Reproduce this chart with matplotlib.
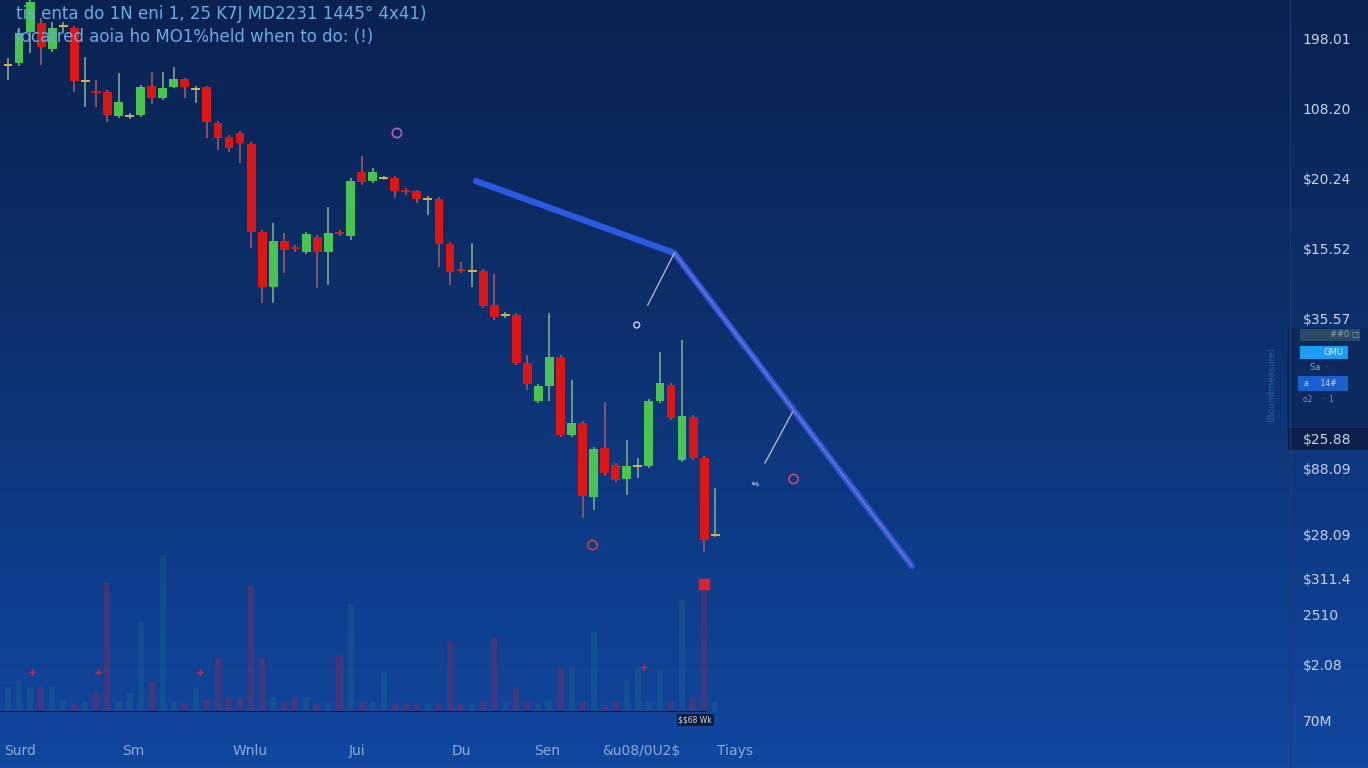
import numpy as np
import matplotlib
matplotlib.use("Agg")
import matplotlib.pyplot as plt
from matplotlib.colors import LinearSegmentedColormap
from matplotlib.patches import Rectangle

plt.rcParams["text.parse_math"] = False

# candle data (price units), one entry per session
opens = [175.5, 176.25, 184, 186.25, 179.75, 185.25, 185, 171.5, 169.25, 169,
         163, 162.75, 163.25, 170.5, 167.5, 170.25, 172.25, 169.5, 170.25, 161.25,
         157.75, 158.75, 156, 134, 120.25, 131.75, 130.25, 129, 132.75, 129,
         134, 133, 149, 146.75, 147.25, 147.5, 144.5, 144.25, 142, 142.25,
         131, 124.75, 124, 124.25, 115.75, 113, 113.25, 101.25, 91.75, 95.5,
         102.75, 83.25, 86.25, 67.75, 80, 75.75, 72.25, 75.25, 75.5, 91.75,
         95.75, 77, 87.75, 77.5, 58]
closes = [176, 183.75, 191.5, 180.25, 185, 185.75, 171.75, 172, 168.75, 163.25,
          166.5, 163.25, 170.25, 167.5, 170, 172.25, 170.25, 170, 161.5, 157.5,
          155, 156.25, 134, 120.25, 131.75, 129.5, 129.75, 133.5, 129, 133.75,
          133.5, 146.75, 146.5, 149, 147.75, 144.25, 144, 142.25, 142.5, 131,
          124, 124.25, 124.5, 115.5, 112.75, 113.5, 101.25, 96, 95.5, 102.75,
          83.25, 86.25, 68, 79.75, 73.75, 72, 75.5, 75.75, 91.75, 96.25,
          87.5, 88, 77.5, 57, 58.25]
highs = [177.5, 185, 192, 187.5, 186.5, 186.5, 185.5, 177.75, 172, 169.5,
         173.75, 163.75, 170.75, 174, 174, 175.25, 172.5, 170.5, 170.5, 161.75,
         158.25, 159.25, 156.5, 134.5, 136.25, 133.75, 130.75, 134, 133.25, 140.25,
         134.5, 147.5, 153, 150, 148, 148, 145, 144.5, 143, 142.75,
         131.5, 126.5, 131.25, 124.75, 123.5, 114, 113.75, 103.25, 96, 113.75,
         103.25, 97, 86.75, 80.25, 91.5, 76.25, 82, 77.5, 92.25, 104,
         96.25, 107, 88.25, 78, 70]
lows = [172, 175.5, 178.75, 175.75, 179, 184, 169, 165.25, 165.25, 161.5,
        162.5, 162.25, 162.75, 166, 167, 170, 167.5, 166.25, 157.5, 154.5,
        154, 151.25, 130, 116.25, 116.25, 123.75, 129, 128.5, 120, 120.75,
        133, 132, 145.75, 146.25, 147, 142.5, 143.25, 141.25, 138.25, 125.25,
        120.75, 123.75, 120.25, 115, 112, 112.5, 100.75, 94.5, 91.25, 91.75,
        82.75, 82.75, 62.5, 64.5, 73, 71.5, 68.25, 72.5, 75, 91.25,
        87, 76.5, 77, 54, 57.75]
volumes = [25, 32, 25, 25, 25, 12, 8, 10, 20, 129,
           10, 19, 90, 30, 157, 10, 8, 24, 12, 55,
           15, 15, 127, 55, 15, 10, 15, 15, 8, 10,
           57, 108, 10, 10, 40, 8, 8, 8, 8, 8,
           70, 8, 8, 10, 74, 10, 25, 10, 8, 12,
           45, 45, 10, 80, 7, 10, 32, 45, 10, 42,
           10, 112, 15, 132, 10]

# drawn trend line (session index, price)
trend_x = [42.35, 60.3, 81.8]
trend_y = [146.75, 128.75, 50.5]

# axis labels
price_ticks = [182.5, 164.75, 147.25, 129.75, 112.5, 82.25, 75, 58.5, 47.25, 38.25, 26, 12]
price_labels = ["198.01", "108.20", "$20.24", "$15.52", "$35.57", "$25.88", "$88.09",
                "$28.09", "$311.4", "2510", "$2.08", "70M"]
date_ticks = [1.1, 11.3, 21.9, 31.6, 41.0, 48.8, 57.3, 65.8]
date_labels = ["Surd", "Sm", "Wnlu", "Jui", "Du", "Sen", "&u08/0U2$", "Tiays"]

title_1 = "tis enta do 1N eni 1, 25 K7J MD2231 1445\u00b0 4x41)"
title_2 = "Iocatred aoia ho MO1%held when to do: (!)"

GREEN = "#47c451"
RED = "#dc1515"
DOJI = "#c9b54a"

W, H = 1368, 768
fig = plt.figure(figsize=(13.68, 7.68), dpi=100)

# background gradient + side widget (pixel coords)
bg = fig.add_axes([0, 0, 1, 1], zorder=-5)
cmap = LinearSegmentedColormap.from_list("bg", ["#0a2250", "#0c2d66", "#0e3a84", "#1247a0"])
grad = np.linspace(0, 1, 256).reshape(-1, 1)
bg.imshow(grad, aspect="auto", cmap=cmap, extent=[0, W, H, 0])
bg.set_xlim(0, W)
bg.set_ylim(H, 0)
bg.axis("off")

bg.add_patch(Rectangle((1287, 328), 81, 104, color="#0d2a5e", lw=0))
bg.add_patch(Rectangle((1300, 329), 60, 12, color="#2b4a66", lw=0))
bg.text(1345, 335, "##0 \u25a1", color="#8aa0b4", fontsize=6, ha="center", va="center")
bg.add_patch(Rectangle((1300, 346), 48, 13, color="#1c9cf2", lw=0))
bg.text(1333, 352.5, "GMU", color="#d8ecff", fontsize=6, ha="center", va="center")
bg.text(1310, 368, "Sa  \u00b7", color="#8fa4c8", fontsize=6, ha="left", va="center")
bg.add_patch(Rectangle((1298, 376), 50, 15, color="#1b5fcc", lw=0))
bg.text(1304, 383.5, "a     14#", color="#c8d8f0", fontsize=5.5, ha="left", va="center")
bg.text(1303, 400, "o2    \u00b7\u00b7 1", color="#7b92b8", fontsize=5.5, ha="left", va="center")
bg.add_patch(Rectangle((1288, 428), 80, 22, color="#0b1f4a", lw=0))
bg.text(1272, 384, "(Boundmeasure)", color="#2a5fa0", fontsize=6.5, rotation=90,
        ha="center", va="center")

# price axes
left_w = 1290 / W
ax = fig.add_axes([0, 0, left_w, 1])
ax.patch.set_alpha(0)
x0 = -8 / 11.05
ax.set_xlim(x0, x0 + 1290 / 11.05)
ax.set_ylim(0, 192)

idx = np.arange(len(opens))
o = np.array(opens); c = np.array(closes)
up = c >= o
body_lo = np.minimum(o, c)
body_h = np.maximum(np.abs(c - o), 0.5)
doji = np.abs(c - o) <= 0.6

body_cols = [(DOJI if d else GREEN) if u else RED for u, d in zip(up, doji)]
wick_cols = ["#7fa88c" if u else "#9a5a6c" for u in up]
ax.vlines(idx, lows, highs, colors=wick_cols, lw=1.2, zorder=2)
ax.bar(idx, body_h, bottom=body_lo, width=0.8, color=body_cols, lw=0, zorder=3)

# trend line
ax.plot(trend_x, trend_y, color="#2a5ae0", lw=4.5, solid_capstyle="round", zorder=4)
ax.plot(trend_x[1:], trend_y[1:], color="#c07a9a", lw=0.8, alpha=0.8, zorder=5)

# small annotations on the chart
ax.plot([60.3, 57.9], [128.75, 115.75], color="#b8c0d8", lw=0.9, zorder=4)
ax.plot([71.0, 68.5], [89, 76.25], color="#b8c0d8", lw=0.9, zorder=4)
ax.scatter([35.2, 71.1], [158.75, 72.25], s=45, facecolor="none",
           edgecolor=["#b060c0", "#c04a70"], lw=1.2, zorder=5)
ax.scatter([52.9], [55.75], s=45, facecolor="none", edgecolor="#c83a50", lw=1.2, zorder=5)
ax.scatter([56.9], [110.75], s=18, facecolor="none", edgecolor="#d0d8e8", lw=1, zorder=5)
ax.text(67.6, 71.25, "$", color="#c8d0e0", fontsize=6, ha="center", va="center", rotation=70)

ax.yaxis.tick_right()
ax.set_yticks(price_ticks)
ax.set_yticklabels(price_labels)
ax.tick_params(axis="y", length=0, pad=9, labelsize=10, labelcolor="#c8d2e6")
ax.set_xticks(date_ticks)
ax.set_xticklabels(date_labels)
ax.tick_params(axis="x", length=0, pad=-17, labelsize=10, labelcolor="#8aa8d8")
for s in ["top", "left", "bottom"]:
    ax.spines[s].set_visible(False)
ax.spines["right"].set_color("#1c3d74")
ax.spines["right"].set_linewidth(0.8)

# volume axes
axv = fig.add_axes([0, 56 / H, left_w, 172 / H], sharex=ax)
axv.patch.set_alpha(0)
axv.set_ylim(0, 172)
vol_cols = [(0.16, 0.50, 0.48, 0.22) if u else (0.62, 0.16, 0.30, 0.35) for u in up]
axv.bar(idx, volumes, width=0.55, color=vol_cols, lw=0)
axv.hlines(0, x0, 63.2, color="#0a1a3a", lw=2.2)
axv.scatter([63], [128], marker="s", s=60, color="#e0202a", zorder=3)
axv.scatter([2.2, 8.1, 17.4, 57.6], [40, 40, 40, 45], marker="+", s=25, color="#c03050", lw=1)
axv.text(62.2, -8, "$$68 Wk", color="#d0d8e8", fontsize=5.5, ha="center", va="center",
         bbox=dict(boxstyle="square,pad=0.25", fc="#0b1a3a", ec="none"), clip_on=False)
axv.axis("off")

fig.text(16 / W, 1 - 14 / H, title_1, color="#6eaae0", fontsize=12, va="center", ha="left")
fig.text(16 / W, 1 - 37 / H, title_2, color="#6eaae0", fontsize=12, va="center", ha="left")

fig.savefig("out.png", dpi=100)
